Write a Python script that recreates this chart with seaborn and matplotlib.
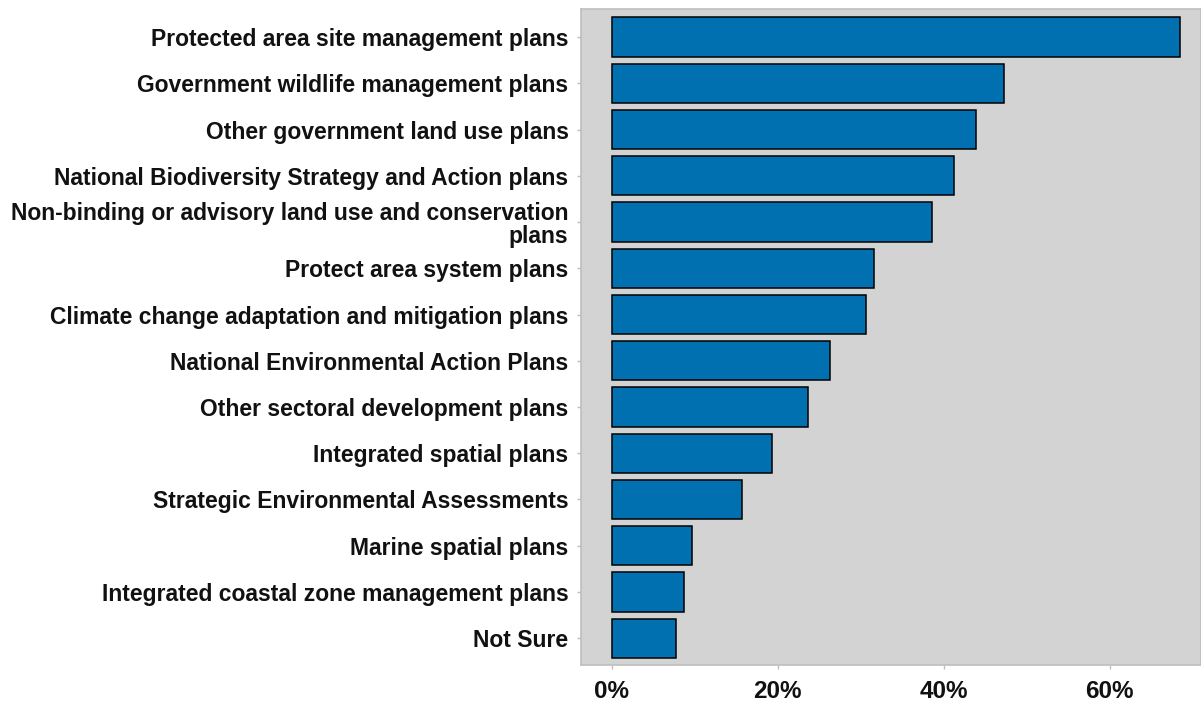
import pandas as pd
import seaborn as sns
import matplotlib.pyplot as plt
from matplotlib.ticker import FuncFormatter

# Plan types and share of respondents (%)
plans = [
    "Protected area site management plans",
    "Government wildlife management plans",
    "Other government land use plans",
    "National Biodiversity Strategy and Action plans",
    "Non-binding or advisory land use and conservation\nplans",
    "Protect area system plans",
    "Climate change adaptation and mitigation plans",
    "National Environmental Action Plans",
    "Other sectoral development plans",
    "Integrated spatial plans",
    "Strategic Environmental Assessments",
    "Marine spatial plans",
    "Integrated coastal zone management plans",
    "Not Sure",
]
share = [68.5, 47.3, 43.9, 41.2, 38.6, 31.6, 30.6, 26.3, 23.7, 19.3, 15.7, 9.7, 8.7, 7.7]
x_ticks = [0, 20, 40, 60]

df = pd.DataFrame({"plan": plans, "share": share})

sns.set_style("white")
plt.rcParams["font.family"] = ["Liberation Sans", "DejaVu Sans"]

fig = plt.figure(figsize=(12.01, 7.02), dpi=100)
ax = fig.add_axes([0.4838, 0.0527, 0.5162, 0.9340])
ax.set_facecolor("#D3D3D3")

sns.barplot(data=df, x="share", y="plan", orient="h", color="#0070B0",
            saturation=1, width=0.85, edgecolor="black", linewidth=1.1, ax=ax)

ax.set_xlim(-3.7, 71.0)
ax.set_ylim(13.58, -0.6)
ax.set_xticks(x_ticks)
ax.xaxis.set_major_formatter(FuncFormatter(lambda v, p: f"{v:.0f}%"))
ax.set_xlabel("")
ax.set_ylabel("")

for s in ax.spines.values():
    s.set_color("#BEBEBE")
    s.set_linewidth(1.2)

ax.tick_params(axis="both", which="both", length=3, width=1, color="#BEBEBE",
               left=True, bottom=True)
ax.tick_params(axis="y", pad=6, labelsize=16.5)
ax.tick_params(axis="x", pad=8, labelsize=17.5)
for lbl in ax.get_yticklabels() + ax.get_xticklabels():
    lbl.set_fontweight("bold")
    lbl.set_color("#111111")
    lbl.set_linespacing(1.0)

fig.savefig("out.png", dpi=100)
